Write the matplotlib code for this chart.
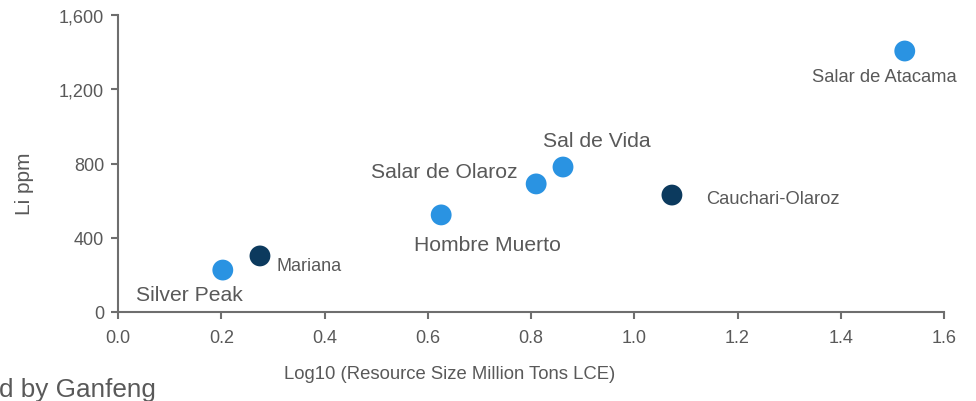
import matplotlib
matplotlib.use("Agg")
import matplotlib.pyplot as plt

plt.rcParams['font.family'] = ['Liberation Sans', 'DejaVu Sans']

# Data
names = ["Silver Peak", "Mariana", "Hombre Muerto", "Salar de Olaroz",
         "Sal de Vida", "Cauchari-Olaroz", "Salar de Atacama"]
log_size = [0.203, 0.275, 0.626, 0.810, 0.862, 1.073, 1.524]
li_ppm = [226, 302, 523, 690, 781, 630, 1406]
ganfeng = [False, True, False, False, False, True, False]

x_ticks = [0.0, 0.2, 0.4, 0.6, 0.8, 1.0, 1.2, 1.4, 1.6]
y_ticks = [0, 400, 800, 1200, 1600]
y_tick_labels = ["0", "400", "800", "1,200", "1,600"]

# Styling (label placement in pixels relative to the point)
label_style = {
    "Silver Peak": ((-33, -24), "center", 15.2),
    "Mariana": ((17, -10), "left", 13),
    "Hombre Muerto": ((46, -30), "center", 15.2),
    "Salar de Olaroz": ((-19, 12), "right", 15.2),
    "Sal de Vida": ((34, 27), "center", 15.2),
    "Cauchari-Olaroz": ((34, -3), "left", 13.2),
    "Salar de Atacama": ((-20, -25), "center", 13.2),
}
LIGHT = "#2A93E2"
DARK = "#0C3A5E"
TXT = "#595959"
AX = "#6E6E6E"

fig = plt.figure(figsize=(9.76, 4.02), dpi=100)
ax = fig.add_axes([118 / 976, 89 / 402, 826 / 976, 297 / 402])

colors = [DARK if g else LIGHT for g in ganfeng]
ax.scatter(log_size, li_ppm, s=225, c=colors, linewidths=0, zorder=3, clip_on=False)

for n, xv, yv in zip(names, log_size, li_ppm):
    (dx, dy), ha, fs = label_style[n]
    ax.annotate(n, (xv, yv), xytext=(dx, dy), textcoords="offset pixels",
                ha=ha, va="center", fontsize=fs, color=TXT)

ax.set_xlim(0, 1.6)
ax.set_ylim(0, 1600)
ax.set_xticks(x_ticks)
ax.set_xticklabels([f"{t:.1f}" for t in x_ticks])
ax.set_yticks(y_ticks)
ax.set_yticklabels(y_tick_labels)

for s in ["top", "right"]:
    ax.spines[s].set_visible(False)
for s in ["left", "bottom"]:
    ax.spines[s].set_color(AX)
    ax.spines[s].set_linewidth(1.5)
ax.tick_params(axis="both", colors=AX, labelcolor=TXT, labelsize=13,
               length=5, width=1.5, direction="out")
ax.tick_params(axis="x", pad=7)
ax.tick_params(axis="y", pad=5)

fig.text(450 / 976, 1 - 375 / 402, "Log10 (Resource Size Million Tons LCE)",
         ha="center", va="center", fontsize=13.3, color=TXT)
fig.text(25 / 976, 1 - 184 / 402, "Li ppm", rotation=90,
         ha="center", va="center", fontsize=15, color=TXT)
fig.text(-1 / 976, (402 - 397) / 402, "d by Ganfeng",
         ha="left", va="baseline", fontsize=18.8, color=TXT)

fig.savefig("out.png", dpi=100)
